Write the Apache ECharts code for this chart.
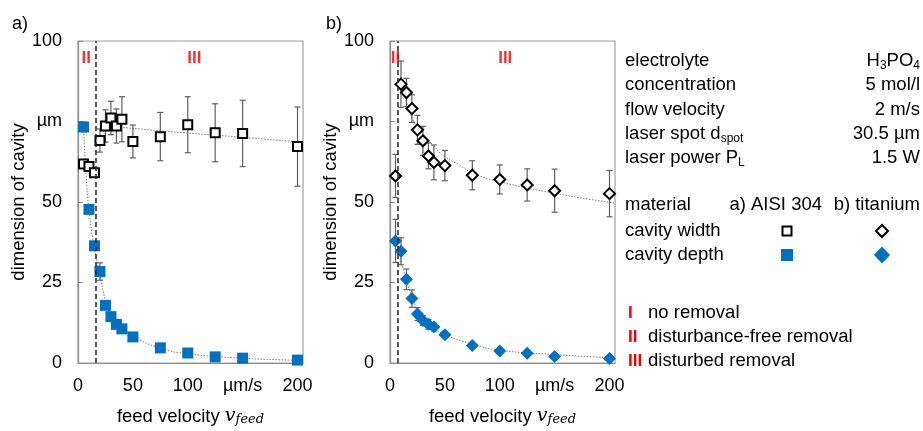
<!DOCTYPE html>
<html>
<head>
<meta charset="utf-8">
<script src="https://cdn.jsdelivr.net/npm/echarts@6/dist/echarts.min.js"></script>
<style>
  html, body { margin: 0; padding: 0; background: #fff; }
  #chart { width: 923px; height: 431px; }
</style>
</head>
<body>
<div id="chart"></div>
<script>
// feed velocity in µm/s
const feed = [5, 10, 15, 20, 25, 30, 35, 40, 50, 75, 100, 125, 150, 200]

// a) AISI 304
const aWidth = [61.8, 61.0, 59.1, 69.1, 73.6, 76.1, 73.6, 75.7, 68.8, 70.3, 74.0, 71.5, 71.3, 67.2]
const aWidthErr = [0.8, 0.8, 0.8, 3.6, 5.0, 5.2, 5.3, 7.0, 5.1, 7.5, 8.7, 9.0, 10.3, 12.3]
const aDepth = [73.3, 47.7, 36.4, 28.4, 17.9, 14.4, 12.0, 10.6, 8.1, 4.7, 3.1, 1.9, 1.5, 0.9]
const aDepthErr = [1.5, 0.8, 0.8, 2.7, 0.8, 0.8, 0.8, 0.8, 0.6, 0.5, 0.5, 0.4, 0.4, 0.3]

// b) titanium
const bWidth = [58.1, 86.6, 84.0, 79.0, 72.4, 69.0, 64.3, 62.3, 61.3, 58.3, 57.0, 55.3, 53.5, 52.6]
const bWidthErr = [6.7, 7.2, 4.4, 4.3, 4.5, 4.5, 4.0, 5.4, 4.7, 4.5, 4.5, 5.0, 6.7, 7.2]
const bDepth = [37.9, 34.7, 26.0, 20.0, 15.2, 13.2, 12.0, 11.2, 8.8, 5.4, 3.7, 3.0, 2.0, 1.4]
const bDepthErr = [6.7, 4.2, 3.2, 2.7, 2.0, 1.5, 1.5, 1.2, 1.0, 0.8, 0.7, 0.6, 0.6, 0.5]

// dotted trend lines
const aWidthTrend = [[36, 73.3], [100, 71.4], [150, 70.1], [205, 68.5]]
const aDepthTrend = [[5, 73], [7.5, 58], [10, 47.5], [15, 35.5], [20, 27.5], [25, 19.5], [30, 15.7], [40, 11.5], [50, 8.4], [75, 4.6], [100, 2.9], [150, 1.5], [205, 0.8]]
const bWidthTrend = [[10, 88], [15, 81], [20, 76], [30, 71], [40, 67.3], [50, 64], [64, 61.4], [75, 59], [100, 56.3], [150, 52.7], [204, 49.7]]
const bDepthTrend = [[5, 40], [10, 32], [15, 25.5], [20, 20.5], [25, 16.5], [30, 14], [40, 11], [50, 8.8], [75, 5.9], [100, 4.0], [150, 2.6], [204, 1.6]]

// regime borders and labels
const borderA = 16
const borderB = 7
const regionsA = [{ name: 'II', value: [7.5, 94.5] }, { name: 'III', value: [106, 94.5] }]
const regionsB = [{ name: 'II', value: [5, 94.5] }, { name: 'III', value: [105, 94.5] }]

const yTicks = { 0: '0', 25: '25', 50: '50', 75: 'µm', 100: '100' }
const xTicks = { 0: '0', 50: '50', 100: '100', 150: 'µm/s', 200: '200' }

const FONT = '"Liberation Sans", Arial, sans-serif'
const BLUE = '#0070C0'
const RED = '#f00000'

function pairs(xs, ys, es) {
  return xs.map((x, i) => es ? [x, ys[i], es[i]] : [x, ys[i]])
}

function errRender(params, api) {
  const x = api.value(0)
  const y = api.value(1)
  const e = api.value(2)
  const top = api.coord([x, y + e])
  const bot = api.coord([x, y - e])
  const c = 3
  const st = { stroke: '#606060', lineWidth: 1.2 }
  return {
    type: 'group',
    children: [
      { type: 'line', shape: { x1: top[0], y1: top[1], x2: bot[0], y2: bot[1] }, style: st },
      { type: 'line', shape: { x1: top[0] - c, y1: top[1], x2: top[0] + c, y2: top[1] }, style: st },
      { type: 'line', shape: { x1: bot[0] - c, y1: bot[1], x2: bot[0] + c, y2: bot[1] }, style: st }
    ]
  }
}

function xAxis(idx) {
  return {
    gridIndex: idx,
    type: 'value',
    min: 0,
    max: 205,
    interval: 50,
    axisLine: { show: true, lineStyle: { color: '#8c8c8c', width: 1.2 } },
    axisTick: { show: false },
    splitLine: { show: false },
    axisLabel: {
      formatter: v => xTicks[v] || '',
      fontSize: 18,
      color: '#000',
      fontFamily: FONT,
      margin: 14
    },
    name: 'feed velocity {v|v}{f|feed}',
    nameLocation: 'middle',
    nameGap: 44,
    nameTextStyle: {
      fontSize: 18.5,
      color: '#000',
      fontFamily: FONT,
      rich: {
        v: { fontFamily: '"DejaVu Serif", serif', fontStyle: 'italic', fontSize: 19, color: '#000' },
        f: { fontFamily: '"DejaVu Serif", serif', fontStyle: 'italic', fontSize: 13, color: '#000', verticalAlign: 'bottom', lineHeight: 8 }
      }
    }
  }
}

function yAxis(idx) {
  return {
    gridIndex: idx,
    type: 'value',
    min: 0,
    max: 100,
    interval: 25,
    axisLine: { show: true, lineStyle: { color: '#8c8c8c', width: 1.2 } },
    axisTick: { show: true, inside: true, length: 5, lineStyle: { color: '#8c8c8c' } },
    splitLine: { show: false },
    axisLabel: {
      formatter: v => yTicks[v] || '',
      fontSize: 18,
      color: '#000',
      fontFamily: FONT,
      margin: 16
    },
    name: 'dimension of cavity',
    nameLocation: 'middle',
    nameGap: 49,
    nameTextStyle: { fontSize: 18.5, color: '#000', fontFamily: FONT }
  }
}

function panelSeries(idx, shape, width, widthErr, depth, depthErr, wTrend, dTrend, border, regions) {
  const sz = shape === 'rect' ? 9 : 11
  const trendStyle = { color: '#7a7a7a', width: 1, type: [1.5, 1.5] }
  return [
    {
      type: 'line', xAxisIndex: idx, yAxisIndex: idx, data: wTrend, smooth: true,
      showSymbol: false, symbol: 'none', lineStyle: trendStyle, z: 1, silent: true
    },
    {
      type: 'line', xAxisIndex: idx, yAxisIndex: idx, data: dTrend, smooth: true,
      showSymbol: false, symbol: 'none', lineStyle: trendStyle, z: 1, silent: true
    },
    {
      type: 'custom', xAxisIndex: idx, yAxisIndex: idx, renderItem: errRender,
      data: pairs(feed, width, widthErr), encode: { x: 0, y: 1 }, z: 2, silent: true
    },
    {
      type: 'custom', xAxisIndex: idx, yAxisIndex: idx, renderItem: errRender,
      data: pairs(feed, depth, depthErr), encode: { x: 0, y: 1 }, z: 2, silent: true
    },
    {
      type: 'scatter', xAxisIndex: idx, yAxisIndex: idx, data: pairs(feed, depth),
      symbol: shape, symbolSize: shape === 'rect' ? 11 : 13,
      itemStyle: { color: BLUE, opacity: 1 }, z: 3,
      markLine: {
        silent: true,
        symbol: ['none', 'none'],
        label: { show: false },
        lineStyle: { color: '#222', width: 1.5, type: [5, 3] },
        data: [{ xAxis: border }]
      }
    },
    {
      type: 'scatter', xAxisIndex: idx, yAxisIndex: idx, data: pairs(feed, width),
      symbol: shape, symbolSize: sz,
      itemStyle: { color: '#fff', borderColor: '#000', borderWidth: 2, opacity: 1 }, z: 4
    },
    {
      type: 'scatter', xAxisIndex: idx, yAxisIndex: idx, data: regions,
      symbolSize: 1, itemStyle: { color: 'transparent' }, z: 5, silent: true,
      label: {
        show: true, position: 'inside', formatter: p => p.name,
        color: RED, fontWeight: 'bold', fontSize: 17, fontFamily: FONT
      }
    }
  ]
}

// legend panel on the right
const txt = (x, y, text, extra) => ({
  type: 'text', x: x, y: y, silent: true,
  style: Object.assign({
    text: text, fill: '#000', fontSize: 18.5, fontFamily: FONT,
    textVerticalAlign: 'middle', lineHeight: 22,
    rich: { s: { fontSize: 12, fontFamily: FONT, verticalAlign: 'bottom', lineHeight: 8 } }
  }, extra || {})
})
const rightAlign = { textAlign: 'right' }
const red = { fill: RED, fontWeight: 'bold', fontSize: 17 }

const legendRows = [
  ['electrolyte', 'H{s|3}PO{s|4}', 61],
  ['concentration', '5 mol/l', 85],
  ['flow velocity', '2 m/s', 110],
  ['laser spot d{s|spot}', '30.5 µm', 134],
  ['laser power P{s|L}', '1.5 W', 158]
]
const graphics = [
  txt(12, 24, 'a)', { fontSize: 18 }),
  txt(326, 24, 'b)', { fontSize: 18 })
]
legendRows.forEach(r => {
  graphics.push(txt(625, r[2], r[0]))
  graphics.push(txt(920, r[2], r[1], rightAlign))
})
graphics.push(txt(625, 205, 'material'))
graphics.push(txt(822, 205, 'a) AISI 304', rightAlign))
graphics.push(txt(920, 205, 'b) titanium', rightAlign))
graphics.push(txt(625, 231, 'cavity width'))
graphics.push(txt(625, 255, 'cavity depth'))
graphics.push({ type: 'rect', shape: { x: 782.5, y: 226.5, width: 9, height: 9 }, style: { fill: '#fff', stroke: '#000', lineWidth: 2 } })
graphics.push({ type: 'rect', shape: { x: 781, y: 249, width: 12, height: 12 }, style: { fill: BLUE } })
graphics.push({ type: 'polygon', shape: { points: [[882, 225], [888, 231], [882, 237], [876, 231]] }, style: { fill: '#fff', stroke: '#000', lineWidth: 2 } })
graphics.push({ type: 'polygon', shape: { points: [[882, 246.5], [890, 255], [882, 263.5], [874, 255]] }, style: { fill: BLUE } })
graphics.push(txt(628, 313, 'I', red))
graphics.push(txt(648, 313, 'no removal'))
graphics.push(txt(628, 337, 'II', red))
graphics.push(txt(648, 337, 'disturbance-free removal'))
graphics.push(txt(628, 361, 'III', red))
graphics.push(txt(648, 361, 'disturbed removal'))

const myChart = echarts.init(document.getElementById('chart'))
const option = {
  animation: false,
  textStyle: { fontFamily: FONT },
  grid: [
    { left: 78, top: 41, width: 225, height: 333, show: true, borderColor: '#a0a0a0', borderWidth: 1.2, backgroundColor: '#fff' },
    { left: 390, top: 41, width: 225, height: 333, show: true, borderColor: '#a0a0a0', borderWidth: 1.2, backgroundColor: '#fff' }
  ],
  xAxis: [xAxis(0), xAxis(1)],
  yAxis: [yAxis(0), yAxis(1)],
  series: [].concat(
    panelSeries(0, 'rect', aWidth, aWidthErr, aDepth, aDepthErr, aWidthTrend, aDepthTrend, borderA, regionsA),
    panelSeries(1, 'diamond', bWidth, bWidthErr, bDepth, bDepthErr, bWidthTrend, bDepthTrend, borderB, regionsB)
  ),
  graphic: graphics
}
myChart.setOption(option)
window.addEventListener('resize', () => myChart.resize())
</script>
</body>
</html>
